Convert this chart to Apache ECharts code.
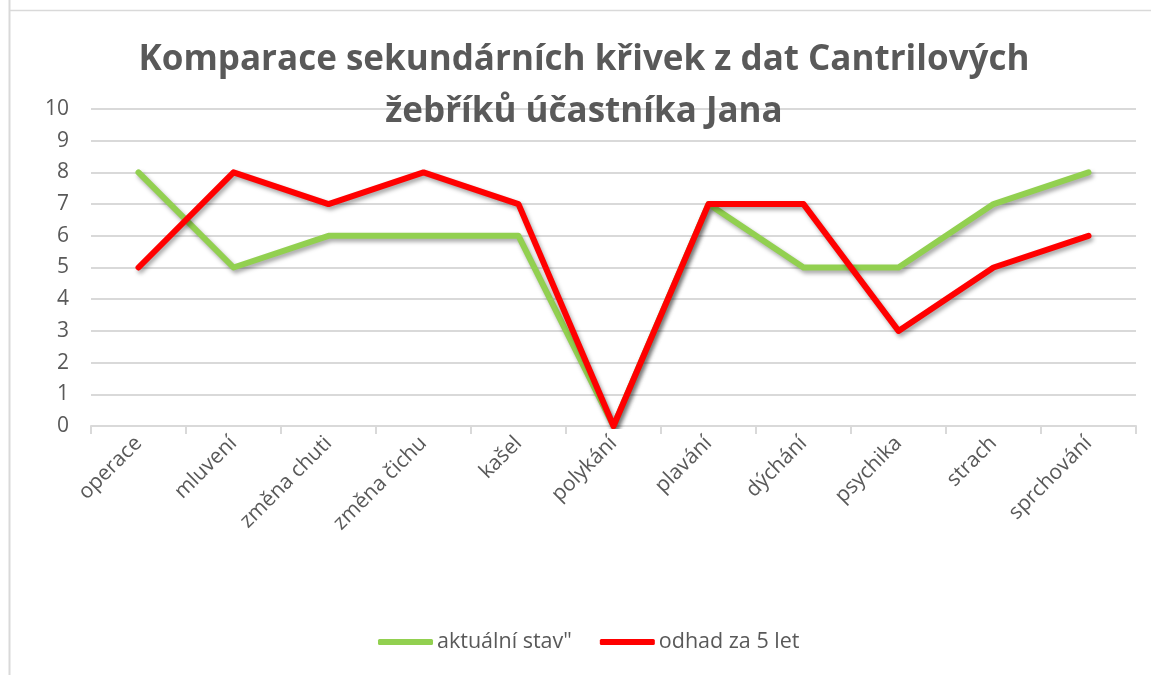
<!DOCTYPE html>
<html>
<head>
<meta charset="utf-8">
<script src="https://cdn.jsdelivr.net/npm/echarts@6/dist/echarts.min.js"></script>
<style>
html,body{margin:0;padding:0;background:#fff;}
#c{width:1151px;height:675px;}
</style>
</head>
<body>
<div id="c"></div>
<script>
const categories = ['operace','mluvení','změna chuti','změna čichu','kašel','polykání','plavání','dýchání','psychika','strach','sprchování'];
const aktualniStav = [8,5,6,6,6,0,7,5,5,7,8];
const odhad5Let = [5,8,7,8,7,0,7,7,3,5,6];
const seriesNames = ['aktuální stav"','odhad za 5 let'];
const titleText = 'Komparace sekundárních křivek z dat Cantrilových\nžebříků účastníka Jana';

const chart = echarts.init(document.getElementById('c'));
const font = '"Open Sans", Lato, sans-serif';
const shadow = {shadowColor:'rgba(0,0,0,0.35)', shadowBlur:4, shadowOffsetX:2, shadowOffsetY:3};
chart.setOption({
  animation:false,
  backgroundColor:'#fff',
  title:{
    text:titleText,
    left:579, top:29, textAlign:'center',
    textStyle:{fontFamily:font, fontWeight:'bold', fontSize:35, color:'#595959', lineHeight:52}
  },
  legend:{
    bottom:17, left:373,
    itemWidth:55, itemHeight:6, itemGap:28,
    textStyle:{fontFamily:font, fontSize:21.5, color:'#595959', padding:[0,0,0,-1]},
    data:[{name:seriesNames[0], icon:'roundRect'},{name:seriesNames[1], icon:'roundRect'}]
  },
  grid:{left:91, right:15, top:109, bottom:249},
  xAxis:{
    type:'category', data:categories, boundaryGap:true,
    axisLine:{lineStyle:{color:'#d9d9d9', width:2}},
    axisTick:{show:true, alignWithLabel:false, length:8, lineStyle:{color:'#d9d9d9', width:2}},
    axisLabel:{rotate:45, margin:14, fontFamily:font, fontSize:21, color:'#595959', interval:0}
  },
  yAxis:{
    type:'value', min:0, max:10, interval:1,
    axisLine:{show:false}, axisTick:{show:false},
    splitLine:{lineStyle:{color:'#d9d9d9', width:2}},
    axisLabel:{margin:22, fontFamily:font, fontSize:21, color:'#595959'}
  },
  series:[
    {name:seriesNames[0], type:'line', data:aktualniStav, symbol:'none', color:'#92D050',
     lineStyle:Object.assign({width:6, color:'#92D050', cap:'round', join:'round'}, shadow)},
    {name:seriesNames[1], type:'line', data:odhad5Let, symbol:'none', color:'#FF0000',
     lineStyle:Object.assign({width:6, color:'#FF0000', cap:'round', join:'round'}, shadow)}
  ],
  graphic:[
    {type:'line', shape:{x1:9.5,y1:0,x2:9.5,y2:675}, style:{stroke:'#d9d9d9', lineWidth:2}},
    {type:'line', shape:{x1:9,y1:10.5,x2:1151,y2:10.5}, style:{stroke:'#d9d9d9', lineWidth:1.5}}
  ]
});
</script>
</body>
</html>
